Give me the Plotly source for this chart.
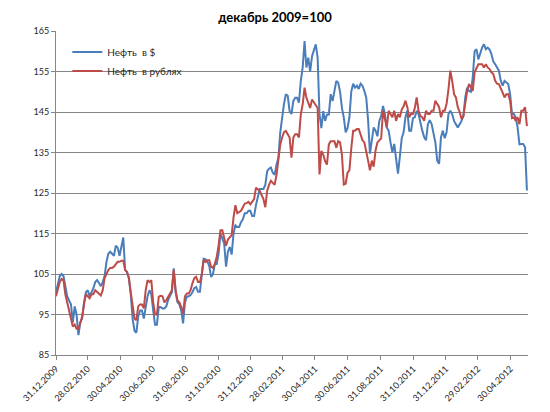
import pandas as pd
import plotly.graph_objects as go

# observations every 3.5 days starting 31.12.2009
start_date = "2009-12-31"
n_points = 253

oil_usd = [100.5, 102.5, 104.5, 105, 104.5, 102, 99.5, 98.5, 97.5, 93,
           97, 95, 89.9, 93, 94, 98, 100.5, 101, 99.5, 100.5,
           101.5, 103, 103.5, 102.8, 102, 103, 104.5, 108, 110, 110.5,
           110, 109.5, 112, 111.5, 109.5, 112, 114, 106, 105.5, 104,
           100, 94, 91, 90.5, 94.5, 96, 96, 94, 97, 99.5,
           101, 100, 96, 92.5, 92.5, 96.9, 96.8, 96.5, 96.5, 97,
           98.6, 99.5, 100.5, 106.4, 100.5, 98, 97.5, 96, 92.8, 98,
           99.4, 99.5, 99.8, 100.5, 101.5, 101.8, 100.6, 100.6, 104, 108.8,
           108.6, 108, 107, 104.3, 105, 107.5, 107.5, 110, 115, 113.8,
           112.5, 106.8, 110.5, 111.7, 109.8, 115, 117, 116.6, 116.6, 117.8,
           118.5, 120, 120, 120.6, 120.6, 119.3, 119.3, 122, 124.5, 126,
           126, 126, 127, 130.4, 131, 131.3, 130, 129.5, 132, 133.7,
           140, 144, 147, 149.4, 149, 145.2, 144.5, 147.7, 148.5, 148.5,
           147.3, 152.7, 156, 162.5, 156, 158.4, 155, 158.8, 160, 161.7,
           158.4, 144.4, 141, 145.2, 142.8, 144.4, 144.4, 149.4, 147.7, 150.2,
           152.7, 152.2, 150, 146, 143.6, 140, 141, 143.7, 150, 152,
           151, 151.5, 150.7, 152, 151.5, 150.2, 148.6, 143, 134.7, 138,
           141.2, 140.4, 139, 142.8, 144, 146.5, 144.5, 141.2, 140.4, 137.5,
           135, 137.1, 134, 129.8, 134, 138.5, 140, 143.7, 145.3, 140.4,
           140.4, 143.5, 143.7, 145.3, 144.5, 142, 140.4, 138.8, 138, 142,
           143, 142, 139.6, 137.5, 133, 132.2, 138.8, 140.4, 138.5, 140,
           144.5, 145.3, 144.5, 142.8, 142, 141.2, 142, 142.8, 144, 148.6,
           151, 150.2, 150, 153.5, 160, 160.5, 158, 159.5, 160.9, 161.7,
           160.5, 160.9, 160.4, 159.3, 157.5, 156.8, 156, 155.2, 152.7, 151.5,
           152.7, 152.4, 151.9, 149.4, 144.5, 144.5, 143.7, 141.2, 137, 137.1,
           137.1, 136.3, 125.6]

oil_rub = [99.5, 101.5, 103, 103.8, 103.5, 100, 97.5, 96, 94, 92,
           92.5, 91.5, 91.5, 93, 94.5, 97.5, 100, 99.5, 99, 100,
           100, 101, 100.5, 100, 99.7, 101, 104, 105, 106, 106.5,
           106.5, 106.8, 107.5, 108, 108, 108.3, 108.3, 106, 105.5, 104,
           100.5, 96.5, 94, 93.6, 97, 97.5, 97.5, 96.5, 101, 103.5,
           103, 103.5, 98, 95, 95, 99.4, 99.6, 99.5, 98, 98.5,
           99.4, 100.5, 101, 106, 101, 98.5, 98, 96.9, 95.2, 99.5,
           100.2, 100.2, 101, 102.7, 104, 104.3, 103, 103, 105, 108.4,
           108, 108.4, 108.4, 106.8, 106.5, 107.5, 109.2, 112, 115.8, 115.8,
           113.5, 112, 113.5, 114, 114.6, 119, 122, 120, 120.2, 120.6,
           121.5, 122.4, 122.5, 122.8, 122.2, 123, 123.5, 126.3, 126, 125.5,
           124.5, 123.5, 121.5, 125.5, 127, 128, 127.5, 127, 129.5, 133.7,
           137, 138.7, 140, 140.3, 139.5, 138.7, 133.7, 138.7, 139.5, 139.5,
           138.7, 144.4, 146.9, 151, 148.5, 147.3, 146, 148.1, 147.3, 146.5,
           146, 129.6, 135.4, 134.5, 132.9, 132, 137, 137.8, 137.8, 137.8,
           136.2, 137.8, 137.5, 134.5, 127.1, 127.3, 130, 130.6, 136, 140.4,
           140.4, 140.8, 140.8, 139.6, 138, 137.5, 135.5, 133, 130.6, 133,
           131.5, 135.5, 137.5, 138, 138.5, 145.3, 143.5, 141.2, 145.3, 144.5,
           143.7, 145.3, 142.8, 144.5, 143.7, 145.6, 146.4, 147.8, 146.2, 143.7,
           144.5, 144.5, 146, 148.6, 145.3, 144, 143.7, 142.8, 145.3, 144.5,
           144.5, 145.3, 145.3, 147.8, 147, 146.2, 143.7, 145.3, 145.3, 147,
           150.5, 155.2, 152.7, 149.4, 148.6, 146.2, 145, 143.3, 144, 147.8,
           150.2, 151.9, 151, 150.2, 154.8, 156, 156.8, 156.8, 156.8, 156,
           156.8, 156, 155.6, 154.8, 154.4, 152.7, 152, 151.9, 151, 149.8,
           148.6, 149.4, 149.4, 147.8, 143.5, 143.7, 142.8, 143.7, 142, 145.3,
           145.3, 146.2, 141.5]

tick_dates = ["2009-12-31", "2010-02-28", "2010-04-30", "2010-06-30", "2010-08-31",
              "2010-10-31", "2010-12-31", "2011-02-28", "2011-04-30", "2011-06-30",
              "2011-08-31", "2011-10-31", "2011-12-31", "2012-02-29", "2012-04-30"]
tick_labels = ["31.12.2009", "28.02.2010", "30.04.2010", "30.06.2010", "31.08.2010",
               "31.10.2010", "31.12.2010", "28.02.2011", "30.04.2011", "30.06.2011",
               "31.08.2011", "31.10.2011", "31.12.2011", "29.02.2012", "30.04.2012"]
y_ticks = [85, 95, 105, 115, 125, 135, 145, 155, 165]

series_names = ["Нефть  в $", "Нефть  в рублях"]
series_colors = ["#4A7EBB", "#BE4B48"]

dates = pd.date_range(start_date, periods=n_points, freq="84h")

font_family = "Lato, 'Liberation Sans', sans-serif"

fig = go.Figure()
for name, vals, col in zip(series_names, [oil_usd, oil_rub], series_colors):
    fig.add_trace(go.Scatter(x=dates, y=vals, mode="lines", name=name,
                             line=dict(color=col, width=2)))

# the page body adds an 8px offset, so margins are shifted to compensate
fig.update_layout(
    width=550, height=412,
    margin=dict(l=35, r=30, t=23, b=65),
    paper_bgcolor="white", plot_bgcolor="white",
    font=dict(family=font_family, size=10, color="#262626"),
    title=dict(text="<b>декабрь 2009=100</b>", x=267 / 550, xref="container", xanchor="center",
               y=1 - 9 / 412, yanchor="middle", font=dict(size=13, color="black")),
    legend=dict(x=0.024, y=0.98, xanchor="left", yanchor="top",
                bgcolor="rgba(0,0,0,0)", font=dict(size=10, color="#262626"),
                tracegroupgap=0, itemwidth=30),
    showlegend=True,
)
fig.update_xaxes(
    type="date", range=["2009-12-31", "2012-06-02"],
    tickmode="array", tickvals=tick_dates, ticktext=tick_labels,
    tickangle=-45, tickfont=dict(size=9), ticklabeloverflow="allow",
    showgrid=False, showline=True, linecolor="#868686", linewidth=1,
    ticks="outside", ticklen=4, tickcolor="#868686", zeroline=False,
)
fig.update_yaxes(
    range=[85, 165], tickmode="array", tickvals=y_ticks,
    tickfont=dict(size=9),
    showgrid=True, gridcolor="#868686", gridwidth=1,
    showline=True, linecolor="#868686", linewidth=1,
    ticks="outside", ticklen=4, tickcolor="#868686", zeroline=False,
)

fig.write_html("out.html")
